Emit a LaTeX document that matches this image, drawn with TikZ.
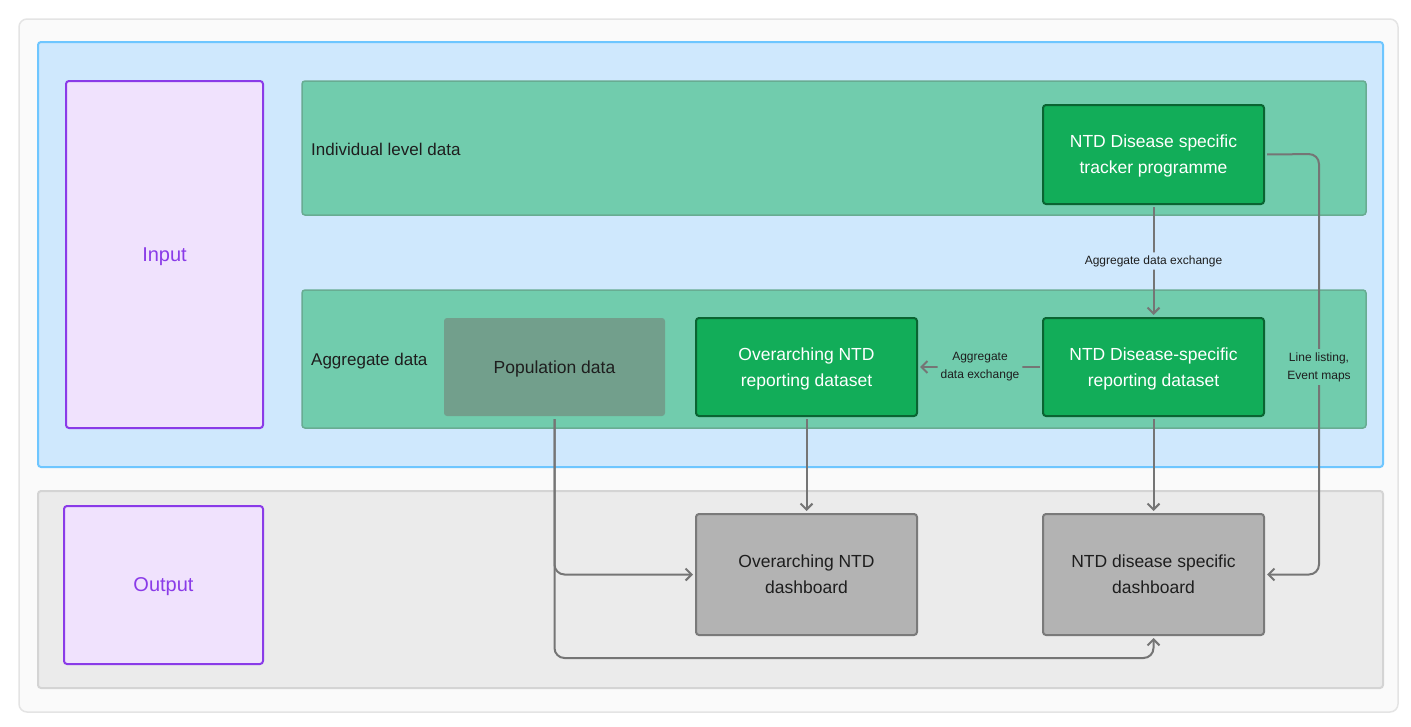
\documentclass[tikz,border=0pt]{standalone}
\usepackage{fontspec}
\setmainfont{Liberation Sans}
\usetikzlibrary{
arrows.meta,
positioning,
calc
}
\definecolor{framebg}{RGB}{250,250,250}
\definecolor{frameline}{RGB}{228,228,228}
\definecolor{inputbg}{RGB}{207,232,253}
\definecolor{inputline}{RGB}{110,198,255}
\definecolor{outputbg}{RGB}{235,235,235}
\definecolor{outputline}{RGB}{212,212,212}
\definecolor{tagbg}{RGB}{240,226,253}
\definecolor{tagline}{RGB}{138,59,232}
\definecolor{bandgreen}{RGB}{113,204,173}
\definecolor{bandline}{RGB}{104,172,146}
\definecolor{boxgreen}{RGB}{18,173,89}
\definecolor{boxgreenline}{RGB}{10,100,50}
\definecolor{popgreen}{RGB}{114,159,140}
\definecolor{dashgray}{RGB}{179,179,179}
\definecolor{dashline}{RGB}{122,122,122}
\definecolor{flowgray}{RGB}{117,117,117}
\definecolor{inktext}{RGB}{30,30,30}

\begin{document}
\begin{tikzpicture}[x=1pt,y=-1pt,
box/.style={draw, line width=2pt, rounded corners=3pt, minimum width=221pt, minimum height=98pt, inner sep=0pt, text depth=0pt, align=center, font=\fontsize{17.5}{26}\selectfont},
datasetbox/.style={box, fill=boxgreen, draw=boxgreenline, text=white},
dashbox/.style={box, fill=dashgray, draw=dashline, text=inktext, minimum height=121pt},
tagbox/.style={draw=tagline, fill=tagbg, line width=2pt, rounded corners=3pt, text depth=0pt, text=tagline, font=\fontsize{20}{24}\selectfont},
bandlabel/.style={anchor=base west, text=inktext, inner sep=0pt, font=\fontsize{17}{20}\selectfont},
lbl/.style={text=inktext, align=center, inner sep=3pt, font=\fontsize{12}{18}\selectfont},
flow/.style={draw=flowgray, line width=2pt, rounded corners=10pt, -{Straight Barb[length=6pt,width=12pt]}, shorten >=2pt, shorten <=2pt}
]
\useasboundingbox (0,0) rectangle (1411,726);

% rahmen und bereiche
\draw[fill=framebg, draw=frameline, line width=1.5pt, rounded corners=8pt] (19,19) rectangle (1398,712);
\draw[fill=inputbg, draw=inputline, line width=2pt, rounded corners=3pt] (38,42) rectangle (1383,467);
\draw[fill=outputbg, draw=outputline, line width=2pt, rounded corners=3pt] (38,491) rectangle (1383,688);

% gruene baender
\draw[fill=bandgreen, draw=bandline, line width=1.5pt, rounded corners=3pt] (302,81) rectangle (1366,215);
\draw[fill=bandgreen, draw=bandline, line width=1.5pt, rounded corners=3pt] (302,290) rectangle (1366,428);
\node[bandlabel] (indlbl) at (311,155) {Individual level data};
\node[bandlabel] (agglbl) at (311,365) {Aggregate data};

% input / output
\node[tagbox, minimum width=197pt, minimum height=347pt] (input) at (164.5,254.5) {Input};
\node[tagbox, minimum width=199pt, minimum height=158pt] (output) at (163.5,585) {Output};

% kaesten
\node[datasetbox, minimum height=99pt] (tracker) at (1153.5,154.5) {NTD Disease specific\\tracker programme};
\node[datasetbox] (ntdrep) at (1153.5,367) {NTD Disease-specific\\reporting dataset};
\node[datasetbox] (ovrep) at (806.5,367) {Overarching NTD\\reporting dataset};
\node[box, fill=popgreen, draw=none, text=inktext] (pop) at (554.5,367) {Population data};
\node[dashbox] (ovdash) at (806.5,574.5) {Overarching NTD\\dashboard};
\node[dashbox] (ntddash) at (1153.5,574.5) {NTD disease specific\\dashboard};

\coordinate (linex) at (1319,154);
\coordinate (bottomrun) at (554.5,658);

% pfeile
\draw[flow] (tracker) -- node[lbl, fill=inputbg]{Aggregate data exchange} (ntdrep);
\draw[flow] (ntdrep) -- node[lbl, fill=bandgreen]{Aggregate\\data exchange} (ovrep);
\foreach \a/\b in {ovrep/ovdash, ntdrep/ntddash}
{   \draw[flow] (\a) -- (\b);
}
\draw[flow] (tracker.east) -- (linex) |- (ntddash.east); %line listing
\node[lbl, fill=bandgreen] (linelbl) at (1319,367) {Line listing,\\Event maps};
\draw[flow] (pop.south) |- (ovdash.west);
\draw[flow] (pop.south) -- (bottomrun) -| (ntddash.south);
\end{tikzpicture}
\end{document}
